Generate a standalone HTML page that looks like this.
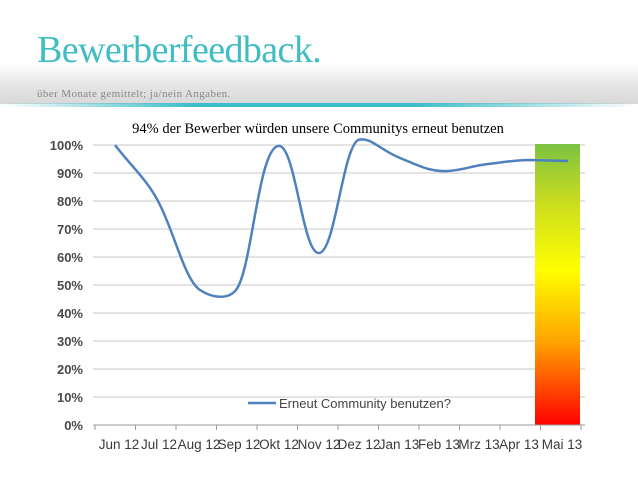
<!DOCTYPE html>
<html><head><meta charset="utf-8"><style>
body{margin:0;width:638px;height:479px;background:#fff;overflow:hidden;position:relative;font-family:"Liberation Sans",sans-serif}
.band{position:absolute;left:0;top:64px;width:638px;height:40px;background:linear-gradient(#fff,#e6e6e6 50%,#d8d8d8)}
.teal{position:absolute;left:0;top:103px;width:638px;height:4px;background:linear-gradient(90deg,rgba(60,190,200,0),#3dbdc8 30%,#3dbdc8 65%,rgba(60,190,200,0))}
.t{position:absolute;left:37px;top:28px;font-family:"Liberation Serif",serif;font-size:38px;color:#3fbcc4;letter-spacing:-0.6px}
.s{position:absolute;left:37px;top:88px;font-family:"Liberation Serif",serif;font-size:11px;color:#888;letter-spacing:0.4px}
</style></head><body>
<div class="band"></div><div class="teal"></div>
<div class="t">Bewerberfeedback.</div>
<div class="s">über Monate gemittelt; ja/nein Angaben.</div>
<svg width="638" height="479" style="position:absolute;left:0;top:0">
<defs><linearGradient id="g" x1="0" y1="0" x2="0" y2="1">
<stop offset="0" stop-color="#7cc242"/><stop offset="0.2" stop-color="#c8dc20"/><stop offset="0.45" stop-color="#ffff00"/><stop offset="0.7" stop-color="#ffa500"/><stop offset="1" stop-color="#ff0000"/></linearGradient></defs>
<text x="318" y="133" text-anchor="middle" font-family="Liberation Serif,serif" font-size="14.5" fill="#000">94% der Bewerber würden unsere Communitys erneut benutzen</text>
<g stroke="#c8c8c8" stroke-width="1">
<line x1="93" y1="145" x2="585" y2="145"/><line x1="93" y1="173" x2="585" y2="173"/><line x1="93" y1="201" x2="585" y2="201"/><line x1="93" y1="229" x2="585" y2="229"/><line x1="93" y1="257" x2="585" y2="257"/><line x1="93" y1="285" x2="585" y2="285"/><line x1="93" y1="313" x2="585" y2="313"/><line x1="93" y1="341" x2="585" y2="341"/><line x1="93" y1="369" x2="585" y2="369"/><line x1="93" y1="397" x2="585" y2="397"/>
</g>
<rect x="535" y="144" width="45" height="281" fill="url(#g)"/>
<g stroke="#999" stroke-width="1"><line x1="93" y1="425" x2="585" y2="425"/>
<line x1="95" y1="425" x2="95" y2="430"/><line x1="135.5" y1="425" x2="135.5" y2="430"/><line x1="176" y1="425" x2="176" y2="430"/><line x1="216.5" y1="425" x2="216.5" y2="430"/><line x1="257" y1="425" x2="257" y2="430"/><line x1="297.5" y1="425" x2="297.5" y2="430"/><line x1="338" y1="425" x2="338" y2="430"/><line x1="378.5" y1="425" x2="378.5" y2="430"/><line x1="419" y1="425" x2="419" y2="430"/><line x1="459.5" y1="425" x2="459.5" y2="430"/><line x1="500" y1="425" x2="500" y2="430"/><line x1="540.5" y1="425" x2="540.5" y2="430"/><line x1="581" y1="425" x2="581" y2="430"/></g>
<g font-size="13" font-weight="bold" fill="#4a4a4a" text-anchor="end">
<text x="83" y="150">100%</text><text x="83" y="178">90%</text><text x="83" y="206">80%</text><text x="83" y="234">70%</text><text x="83" y="262">60%</text><text x="83" y="290">50%</text><text x="83" y="318">40%</text><text x="83" y="346">30%</text><text x="83" y="374">20%</text><text x="83" y="402">10%</text><text x="83" y="430">0%</text></g>
<g font-size="13.5" fill="#3a3a3a" text-anchor="middle" textLength="40">
<text x="119" y="449">Jun 12</text><text x="159" y="449">Jul 12</text><text x="199" y="449">Aug 12</text><text x="239" y="449">Sep 12</text><text x="279" y="449">Okt 12</text><text x="319" y="449">Nov 12</text><text x="359" y="449">Dez 12</text><text x="399" y="449">Jan 13</text><text x="439" y="449">Feb 13</text><text x="479" y="449">Mrz 13</text><text x="519" y="449">Apr 13</text><text x="562" y="449">Mai 13</text></g>
<path d="M115,145 C130,165 148,180 160,205 C175,235 185,280 200,290 C212,298 228,300 236,290 C252,270 258,150 278,146 C295,142 302,250 318,253 C335,256 342,150 358,140 C370,136 380,150 400,158 C420,166 430,172 448,171 C465,170 470,166 488,164 C505,162 515,160 530,160 L568,161" fill="none" stroke="#4f81bd" stroke-width="2.5"/>
<line x1="248" y1="403" x2="276" y2="403" stroke="#4f81bd" stroke-width="2.5"/>
<text x="279" y="408" font-size="13" fill="#444">Erneut Community benutzen?</text>
</svg>
</body></html>
